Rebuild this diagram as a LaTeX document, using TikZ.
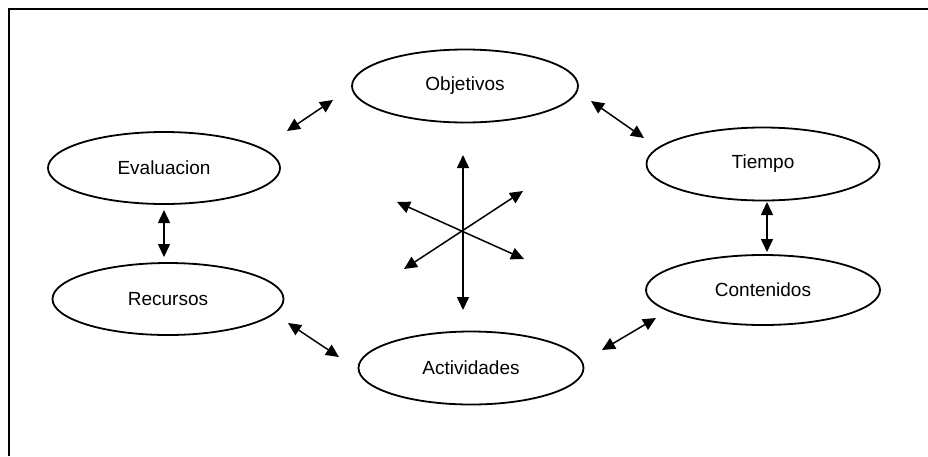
\documentclass[tikz,border=0pt]{standalone}
\usepackage{fontspec}
\setmainfont{Liberation Sans}
\usetikzlibrary{arrows.meta,shapes.geometric}
\begin{document}
\begin{tikzpicture}[x=1pt,y=-1pt,
  bub/.style={draw,ellipse,line width=1.8pt,inner sep=0pt,font=\fontsize{19}{22}\selectfont},
  link/.style={line width=1.5pt,{Triangle[width=12pt,length=13pt]}-{Triangle[width=12pt,length=13pt]}}]
\useasboundingbox (0,0) rectangle (928,456);
\draw[line width=2.4pt] (9,456) -- (9,9) -- (928,9);

\node[bub,minimum width=226pt,minimum height=73pt] (ob) at (465,86) {Objetivos};
\node[bub,minimum width=232pt,minimum height=72pt] (ev) at (164,168) {Evaluacion};
\node[bub,minimum width=233pt,minimum height=73pt] (ti) at (763,164) {Tiempo\hspace{28pt}};
\node[bub,minimum width=231pt,minimum height=72pt] (re) at (168,299) {Recursos};
\node[bub,minimum width=234pt,minimum height=70pt] (co) at (763,290) {Contenidos};
\node[bub,minimum width=225pt,minimum height=73pt] (ac) at (471,368) {Actividades};

\coordinate (e1a) at (287,131); \coordinate (e1b) at (333,100);
\coordinate (e2a) at (591,101); \coordinate (e2b) at (644,138);
\coordinate (e3a) at (164,210); \coordinate (e3b) at (164,257);
\coordinate (e4a) at (767,202); \coordinate (e4b) at (767,252);
\coordinate (e5a) at (288,323); \coordinate (e5b) at (339,357);
\coordinate (e6a) at (602,350); \coordinate (e6b) at (656,318);
\draw[link] (e1a) -- (e1b);
\draw[link] (e2a) -- (e2b);
\draw[link] (e3a) -- (e3b);
\draw[link] (e4a) -- (e4b);
\draw[link] (e5a) -- (e5b);
\draw[link] (e6a) -- (e6b);

\coordinate (c) at (463,230);
\coordinate (v1) at (463,155); \coordinate (v2) at (463,310);
\coordinate (d1a) at (397,202); \coordinate (d1b) at (524,259);
\coordinate (d2a) at (404,269); \coordinate (d2b) at (523,191);
\draw[link] (v1) -- (v2);
\draw[link] (d1a) -- (d1b);
\draw[link] (d2a) -- (d2b);
\end{tikzpicture}
\end{document}
